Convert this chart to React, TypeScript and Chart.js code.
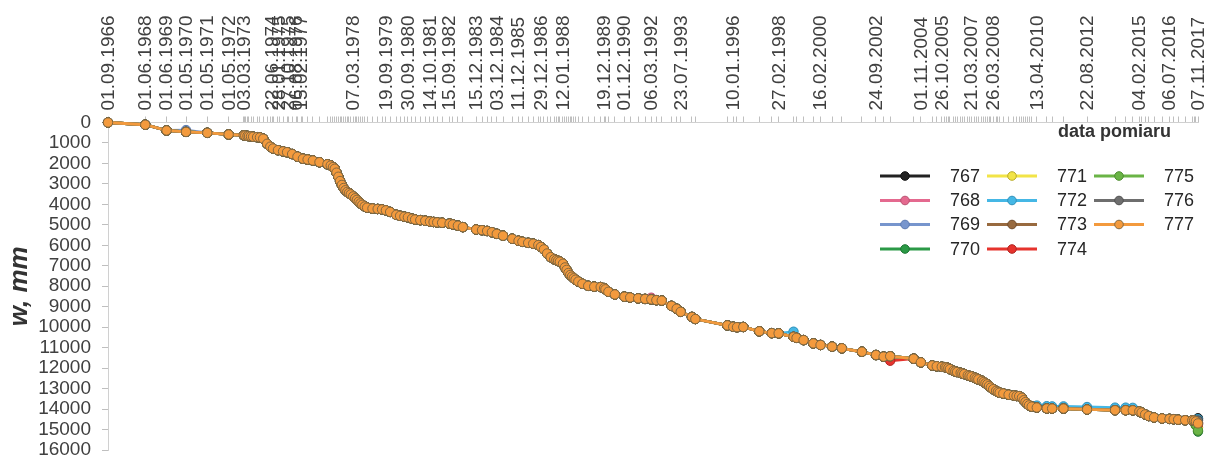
import React, { useEffect, useRef } from "react";
import { Chart, registerables } from "chart.js";

Chart.register(...registerables);

// ---------- DATA ----------
const seriesNames = ["767", "768", "769", "770", "771", "772", "773", "774", "775", "776", "777"];
const seriesColors = ["#222222", "#E4698F", "#7795CD", "#2B9946", "#F2E447", "#45B7E5", "#986A3F", "#E6332D", "#6AB446", "#6E6E6E", "#F39A3D"];
const markerEdges = ["#111111", "#b8506f", "#5a78b0", "#1d7433", "#b9ab2a", "#2d8fb8", "#6e4a2a", "#b02420", "#4d8c30", "#4e4e4e", "#85693f"];

// measurement dates (dd.mm.yyyy)
const dates = [
  "01.09.1966", "01.06.1968", "01.06.1969", "01.05.1970", "01.05.1971", "01.05.1972",
  "15.01.1973", "10.02.1973", "20.03.1973", "15.04.1973", "20.05.1973", "25.06.1973", "01.09.1973", "20.10.1973", "15.12.1973",
  "20.02.1974", "15.04.1974", "01.06.1974", "25.08.1974", "20.11.1974",
  "28.01.1975", "25.04.1975", "25.07.1975", "27.10.1975",
  "15.01.1976", "15.04.1976", "06.08.1976", "20.12.1976",
  "15.02.1977", "25.03.1977", "25.04.1977", "25.05.1977", "25.06.1977", "25.07.1977", "25.08.1977", "25.09.1977", "25.10.1977", "25.11.1977", "25.12.1977",
  "25.01.1978", "07.03.1978", "10.04.1978", "10.05.1978", "10.06.1978", "10.07.1978", "10.08.1978", "20.09.1978", "01.11.1978",
  "01.02.1979", "01.05.1979", "15.07.1979", "19.09.1979", "01.12.1979",
  "15.03.1980", "20.05.1980", "01.08.1980", "30.09.1980", "10.12.1980",
  "01.02.1981", "01.05.1981", "25.07.1981", "14.10.1981", "15.12.1981",
  "15.02.1982", "10.05.1982", "15.09.1982", "10.11.1982",
  "05.02.1983", "01.05.1983", "15.12.1983",
  "25.03.1984", "20.06.1984", "10.09.1984", "03.12.1984",
  "20.03.1985", "25.08.1985", "11.12.1985",
  "15.02.1986", "25.05.1986", "20.08.1986", "15.11.1986", "29.12.1986",
  "20.02.1987", "15.04.1987", "15.06.1987", "15.08.1987", "20.09.1987", "20.10.1987", "20.11.1987",
  "12.01.1988", "15.02.1988", "15.03.1988", "15.04.1988", "15.05.1988", "15.06.1988", "15.07.1988", "15.08.1988", "01.10.1988", "10.12.1988",
  "20.03.1989", "01.07.1989", "20.10.1989", "19.12.1989",
  "10.01.1990", "01.03.1990", "20.06.1990", "01.12.1990",
  "10.03.1991", "25.07.1991", "20.11.1991",
  "06.03.1992", "01.06.1992", "01.09.1992",
  "15.02.1993", "15.05.1993", "23.07.1993",
  "01.02.1994", "01.04.1994", "01.10.1995",
  "10.01.1996", "15.03.1996", "01.07.1996",
  "01.04.1997", "01.11.1997", "27.02.1998", "10.11.1998",
  "01.01.1999", "01.05.1999", "15.10.1999", "16.02.2000", "01.09.2000",
  "15.02.2001", "25.01.2002", "24.09.2002", "01.02.2003", "25.05.2003",
  "01.07.2004", "01.11.2004", "15.05.2005", "01.08.2005", "26.10.2005", "20.12.2005",
  "15.01.2006", "15.02.2006", "15.03.2006", "15.05.2006", "15.06.2006", "15.07.2006", "15.09.2006", "15.10.2006", "15.11.2006",
  "15.01.2007", "15.02.2007", "21.03.2007", "15.05.2007", "15.06.2007", "15.07.2007", "15.09.2007", "15.10.2007", "15.11.2007", "15.12.2007",
  "15.01.2008", "15.02.2008", "26.03.2008", "15.05.2008", "15.06.2008", "15.07.2008", "15.09.2008", "15.12.2008",
  "15.03.2009", "01.05.2009", "15.06.2009", "01.08.2009", "01.09.2009", "01.10.2009", "01.11.2009", "01.12.2009",
  "15.01.2010", "13.04.2010", "01.10.2010", "01.01.2011", "15.07.2011", "22.08.2012",
  "15.12.2013", "15.06.2014", "15.10.2014", "04.02.2015", "15.03.2015", "15.05.2015", "15.07.2015", "15.10.2015",
  "01.03.2016", "06.07.2016", "15.09.2016", "01.12.2016",
  "01.04.2017", "01.08.2017", "01.09.2017", "01.10.2017", "07.11.2017",
];

// subsidence w [mm] common to all benchmarks (they coincide at this scale)
const wCommon = [
  0, 110, 390, 460, 505, 585,
  625, 640, 655, 665, 680, 695, 715, 730, 790,
  1040, 1180, 1270, 1350, 1410,
  1450, 1540, 1670, 1770,
  1810, 1860, 1940, 2040,
  2100, 2180, 2260, 2450, 2650, 2860, 3050, 3200, 3310, 3390, 3450,
  3510, 3610, 3700, 3780, 3870, 3950, 4020, 4100, 4160,
  4205, 4225, 4245, 4290, 4370,
  4510, 4560, 4600, 4630, 4700,
  4740, 4770, 4800, 4840, 4860,
  4880, 4900, 4940, 4980,
  5040, 5110, 5230,
  5260, 5300, 5360, 5440,
  5530, 5680, 5780,
  5830, 5880, 5920, 5990, 6080,
  6200, 6400, 6580, 6680, 6720, 6760, 6800,
  6900, 7080, 7200, 7350, 7450, 7530, 7610, 7680, 7770, 7880,
  7980, 8020, 8040, 8090,
  8150, 8270, 8400, 8510,
  8550, 8590, 8620,
  8640, 8680, 8700,
  8960, 9100, 9250,
  9500, 9600, 9910,
  9980, 10000, 9990,
  10200, 10290, 10300, 10470,
  10520, 10630, 10790, 10870, 10950,
  11030, 11200, 11360, 11440, 11420,
  11540, 11720, 11870, 11910, 11935, 11950,
  11970, 12000, 12050, 12130, 12160, 12190, 12230, 12260, 12290,
  12350, 12380, 12410, 12470, 12510, 12550, 12620, 12680, 12740, 12790,
  12870, 12950, 13030, 13110, 13160, 13200, 13240, 13300,
  13340, 13360, 13370, 13450, 13570, 13660, 13750, 13820,
  13880, 13925, 13970, 13975, 13975, 14020,
  14055, 14055, 14060, 14120, 14170, 14260, 14340, 14410,
  14460, 14480, 14495, 14520,
  14545, 14550, 14560, 14600, 14700,
];

// readings where a benchmark differs from the common curve
const dev767: [string, number][] = [["01.10.2017", 14560], ["07.11.2017", 14450]];
const dev768: [string, number][] = [["06.03.1992", 8560], ["01.10.2017", 14620], ["07.11.2017", 14650]];
const dev769: [string, number][] = [["01.05.1970", 370], ["01.10.2017", 14640], ["07.11.2017", 14700]];
const dev770: [string, number][] = [["01.10.2017", 14800], ["07.11.2017", 15100]];
const dev771: [string, number][] = [["01.10.2017", 14700], ["07.11.2017", 14900]];
const dev772: [string, number][] = [
  ["10.11.1998", 10220], ["13.04.2010", 13830], ["01.10.2010", 13860], ["01.01.2011", 13870], ["15.07.2011", 13870],
  ["22.08.2012", 13900], ["15.12.2013", 13930], ["15.06.2014", 13930], ["15.10.2014", 13940],
  ["01.10.2017", 14520], ["07.11.2017", 14500],
];
const dev773: [string, number][] = [["01.10.2017", 14620], ["07.11.2017", 14680]];
const dev774: [string, number][] = [["25.05.2003", 11640], ["01.10.2017", 14650], ["07.11.2017", 14760]];
const dev775: [string, number][] = [["01.10.2017", 14780], ["07.11.2017", 15050]];
const dev776: [string, number][] = [["01.10.2017", 14580], ["07.11.2017", 14560]];
const dev777: [string, number][] = [];
const deviations = [dev767, dev768, dev769, dev770, dev771, dev772, dev773, dev774, dev775, dev776, dev777];

// x-axis labels and the dates at which they are printed
const xLabelTexts = [
  "01.09.1966", "01.06.1968", "01.06.1969", "01.05.1970", "01.05.1971", "01.05.1972", "03.03.1973",
  "22.06.1974", "28.01.1975", "27.10.1975", "06.08.1976", "15.02.1977", "07.03.1978",
  "19.09.1979", "30.09.1980", "14.10.1981", "15.09.1982", "15.12.1983", "03.12.1984", "11.12.1985",
  "29.12.1986", "12.01.1988", "19.12.1989", "01.12.1990", "06.03.1992", "23.07.1993", "10.01.1996",
  "27.02.1998", "16.02.2000", "24.09.2002", "01.11.2004", "26.10.2005", "21.03.2007", "26.03.2008",
  "13.04.2010", "22.08.2012", "04.02.2015", "06.07.2016", "07.11.2017",
];
const xLabelAt = [
  "01.09.1966", "01.06.1968", "01.06.1969", "01.05.1970", "01.05.1971", "01.05.1972", "20.01.1973",
  "15.05.1974", "13.09.1974", "15.02.1975", "01.07.1975", "26.09.1975", "07.03.1978",
  "19.09.1979", "30.09.1980", "14.10.1981", "15.09.1982", "15.12.1983", "03.12.1984", "11.12.1985",
  "29.12.1986", "12.01.1988", "19.12.1989", "01.12.1990", "06.03.1992", "23.07.1993", "10.01.1996",
  "27.02.1998", "16.02.2000", "24.09.2002", "01.11.2004", "26.10.2005", "21.03.2007", "26.03.2008",
  "13.04.2010", "22.08.2012", "04.02.2015", "06.07.2016", "07.11.2017",
];

const yTitle = "w, mm";
const xTitle = "data pomiaru";

// ---------- helpers ----------
const FONT = '"Liberation Sans", Arial, sans-serif';
const dayOf = (s: string) => {
  const [d, m, y] = s.split(".").map(Number);
  return Date.UTC(y, m - 1, d) / 86400000;
};

const labelMap = new Map<number, string>();
xLabelAt.forEach((d, i) => labelMap.set(dayOf(d), xLabelTexts[i]));
const tickValues = Array.from(new Set([...dates.map(dayOf), ...xLabelAt.map(dayOf)])).sort((a, b) => a - b);

const buildSeries = (dev: [string, number][]) => {
  const over = new Map(dev);
  return dates.map((d, i) => ({ x: dayOf(d), y: over.has(d) ? (over.get(d) as number) : wCommon[i] }));
};

const overlayPlugin = {
  id: "overlayTexts",
  afterDraw(chart: any) {
    const ctx = chart.ctx as CanvasRenderingContext2D;
    ctx.save();
    const colX = [880, 987, 1094];
    const rowY = [176, 200.5, 224.5, 249];
    seriesNames.forEach((name, i) => {
      const c = Math.floor(i / 4);
      const r = i % 4;
      const x0 = colX[c];
      const y = rowY[r];
      ctx.strokeStyle = seriesColors[i];
      ctx.lineWidth = 3;
      ctx.beginPath();
      ctx.moveTo(x0, y);
      ctx.lineTo(x0 + 50, y);
      ctx.stroke();
      ctx.beginPath();
      ctx.arc(x0 + 25, y, 4.3, 0, Math.PI * 2);
      ctx.fillStyle = seriesColors[i];
      ctx.fill();
      ctx.lineWidth = 1;
      ctx.strokeStyle = markerEdges[i];
      ctx.stroke();
      ctx.fillStyle = "#262626";
      ctx.font = `18px ${FONT}`;
      ctx.textBaseline = "middle";
      ctx.textAlign = "left";
      ctx.fillText(name, x0 + 70, y + 1);
    });
    ctx.font = `bold 18px ${FONT}`;
    ctx.textBaseline = "alphabetic";
    ctx.fillStyle = "#333333";
    ctx.fillText(xTitle, 1058, 137);
    ctx.restore();
  },
};

export default function App() {
  const canvasRef = useRef<HTMLCanvasElement | null>(null);

  useEffect(() => {
    if (!canvasRef.current) return;
    const datasets = seriesNames.map((name, i) => ({
      label: name,
      data: buildSeries(deviations[i]),
      borderColor: seriesColors[i],
      backgroundColor: seriesColors[i],
      pointBackgroundColor: seriesColors[i],
      pointBorderColor: markerEdges[i],
      pointBorderWidth: 1,
      pointRadius: 4.7,
      borderWidth: 2.8,
      tension: 0,
      clip: false as any,
      order: seriesNames.length - 1 - i,
    }));

    const chart = new Chart(canvasRef.current, {
      type: "line",
      data: { datasets },
      options: {
        animation: false,
        responsive: true,
        maintainAspectRatio: false,
        events: [],
        layout: { padding: { left: 0, right: 12, top: 0, bottom: 9 } },
        plugins: { legend: { display: false }, tooltip: { enabled: false } },
        scales: {
          x: {
            type: "linear",
            position: "top",
            min: dayOf(dates[0]),
            max: dayOf(dates[dates.length - 1]),
            afterBuildTicks: (axis: any) => {
              axis.ticks = tickValues.map((v) => ({ value: v }));
            },
            afterFit: (axis: any) => {
              axis.height = 122.5;
              axis.paddingLeft = 0;
              axis.paddingRight = 0;
            },
            grid: { drawOnChartArea: false, drawTicks: true, tickLength: 6, color: "#bfbfbf", lineWidth: 1 },
            border: { display: true, color: "#d0d0d0", width: 1 },
            ticks: {
              autoSkip: false,
              minRotation: 90,
              maxRotation: 90,
              padding: 6,
              labelOffset: 23.5,
              color: "#404040",
              font: { family: FONT, size: 19 },
              callback: (value: any) => labelMap.get(Number(value)) ?? "",
            },
          },
          y: {
            type: "linear",
            reverse: true,
            min: 0,
            max: 16000,
            afterFit: (axis: any) => {
              axis.width = 108;
              axis.paddingTop = 0;
              axis.paddingBottom = 0;
            },
            grid: { drawOnChartArea: false, drawTicks: true, tickLength: 6, color: "#bfbfbf" },
            border: { display: true, color: "#d0d0d0", width: 1 },
            ticks: {
              stepSize: 1000,
              autoSkip: false,
              padding: 11,
              color: "#404040",
              font: { family: FONT, size: 19, lineHeight: 0.9 },
              callback: (value: any) => String(value),
            },
            title: {
              display: true,
              text: yTitle,
              color: "#333333",
              padding: { top: 4, bottom: 0 },
              font: { family: FONT, size: 26, weight: "bold", style: "italic" },
            },
          },
        },
      },
      plugins: [overlayPlugin],
    });
    return () => chart.destroy();
  }, []);

  return (
    <div style={{ position: "absolute", left: 0, top: 0, width: 1210, height: 459, background: "#ffffff" }}>
      <canvas ref={canvasRef} />
    </div>
  );
}
